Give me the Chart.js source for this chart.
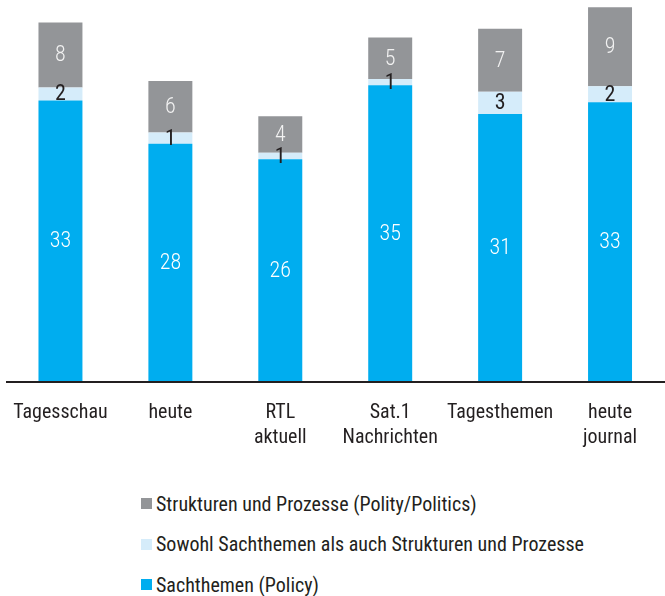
<!DOCTYPE html>
<html>
<head>
<meta charset="utf-8">
<script src="https://cdn.jsdelivr.net/npm/chart.js@4.4.1/dist/chart.umd.min.js"></script>
<style>
  html, body { margin: 0; padding: 0; background: #fff; }
  #wrap { position: relative; width: 665px; height: 596px; overflow: hidden; }
  #box { position: absolute; left: 0; top: 0; width: 665px; height: 460px; }
  #legende { position: absolute; left: 141px; top: 0; font-family: 'Roboto Condensed', sans-serif; font-size: 20px; color: #231f20; }
  .item { position: absolute; left: 0; white-space: nowrap; display: flex; align-items: center; height: 24px; }
  .item span.k { display: inline-block; width: 11px; height: 11px; margin-right: 4px; }
</style>
</head>
<body>
<div id="wrap">
  <div id="box"><canvas id="grafico"></canvas></div>
  <div id="legende"></div>
</div>
<script>
const sender = ['Tagesschau', 'heute', ['RTL', 'aktuell'], ['Sat.1', 'Nachrichten'], 'Tagesthemen', ['heute', 'journal']];
const sachthemen = [33, 27.9, 26.1, 34.8, 31.4, 32.8];
const beides = [1.53, 1.34, 0.74, 0.74, 2.62, 1.88];
const strukturen = [7.65, 6.04, 4.32, 4.87, 7.41, 9.29];

const schrift = "'Roboto Condensed', sans-serif";

// Werte in die Balken schreiben (gerundet, wie im Original)
const werteLabels = {
  id: 'werteLabels',
  afterDatasetsDraw(chart) {
    const ctx = chart.ctx;
    ctx.save();
    ctx.textAlign = 'center';
    ctx.textBaseline = 'middle';
    chart.data.datasets.forEach((ds, i) => {
      const meta = chart.getDatasetMeta(i);
      ctx.font = ds.labelWeight + ' 22px ' + schrift;
      ctx.fillStyle = ds.labelColor;
      meta.data.forEach((bar, j) => {
        ctx.fillText(Math.round(ds.data[j]), bar.x, (bar.y + bar.base) / 2 + 1);
      });
    });
    ctx.restore();
  }
};

// Grundlinie bis zum rechten Rand
const grundlinie = {
  id: 'grundlinie',
  afterDraw(chart) {
    const ctx = chart.ctx;
    const y = chart.scales.y.getPixelForValue(0);
    ctx.save();
    ctx.strokeStyle = '#231f20';
    ctx.lineWidth = 2;
    ctx.beginPath();
    ctx.moveTo(6, y + 1);
    ctx.lineTo(chart.width, y + 1);
    ctx.stroke();
    ctx.restore();
  }
};

const ctx = document.getElementById('grafico').getContext('2d');
const grafico = new Chart(ctx, {
  type: 'bar',
  data: {
    labels: sender,
    datasets: [
      { label: 'Sachthemen (Policy)', data: sachthemen, backgroundColor: '#00adef', labelColor: '#ffffff', labelWeight: 300 },
      { label: 'Sowohl Sachthemen als auch Strukturen und Prozesse', data: beides, backgroundColor: '#d5ecfa', labelColor: '#231f20', labelWeight: 400 },
      { label: 'Strukturen und Prozesse (Polity/Politics)', data: strukturen, backgroundColor: '#939598', labelColor: '#f2f2f2', labelWeight: 300 }
    ]
  },
  options: {
    responsive: true,
    maintainAspectRatio: false,
    animation: false,
    datasets: { bar: { categoryPercentage: 1, barPercentage: 0.4, borderWidth: 0 } },
    layout: { padding: { left: 5.5, right: -6.5, top: 0, bottom: 0 } },
    plugins: {
      legend: { display: false },
      tooltip: { enabled: false }
    },
    scales: {
      x: {
        stacked: true,
        grid: { display: false },
        border: { display: false },
        ticks: {
          color: '#231f20',
          font: { family: schrift, size: 20, lineHeight: '24.5px' },
          padding: 12,
          maxRotation: 0,
          autoSkip: false
        },
        afterFit: scale => {
          scale.height = 79;
          scale.paddingLeft = 0;
          scale.paddingRight = 0;
        }
      },
      y: {
        stacked: true,
        display: false,
        min: 0,
        max: 381 / 8.5
      }
    }
  },
  plugins: [werteLabels, grundlinie]
});

// Legende (umgekehrte Reihenfolge wie im Original)
const legende = document.getElementById('legende');
const zeilenMitte = [503.5, 544, 584.5];
grafico.data.datasets.slice().reverse().forEach((ds, i) => {
  const div = document.createElement('div');
  div.className = 'item';
  div.style.top = (zeilenMitte[i] - 12) + 'px';
  div.innerHTML = `<span class="k" style="background:${ds.backgroundColor}"></span>${ds.label}`;
  legende.appendChild(div);
});
</script>
</body>
</html>
